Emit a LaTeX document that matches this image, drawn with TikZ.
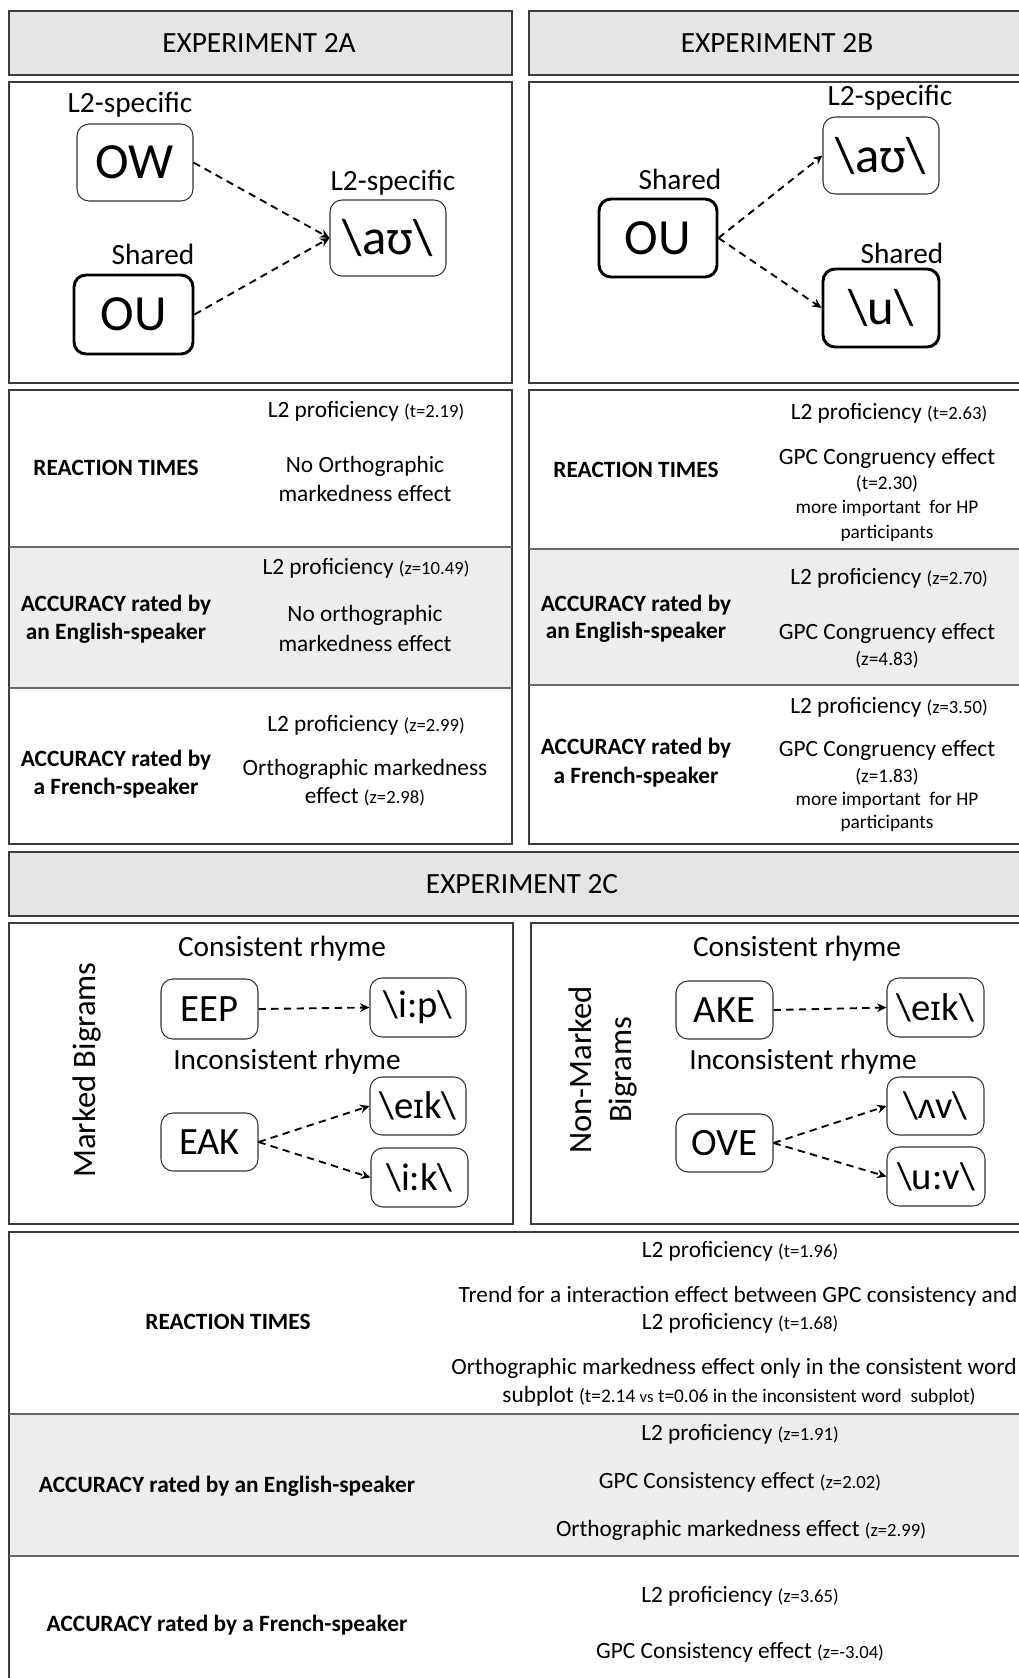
\documentclass[tikz,border=0pt]{standalone}
\usepackage{fontspec}
\setmainfont{Carlito}
\newfontfamily\ipaf[Scale=0.88]{Noto Sans}
\usetikzlibrary{arrows.meta}
\definecolor{hdrc}{RGB}{229,229,229}
\definecolor{rowc}{RGB}{237,237,237}
\definecolor{panelc}{RGB}{60,60,60}
\definecolor{divc}{RGB}{105,105,105}
\newcommand{\fs}[1]{\fontsize{#1}{#1}\selectfont}
\newcommand{\sm}[1]{{\fs{14}#1}}
\newcommand{\bs}{\textbackslash}
\tikzset{
  panel/.style={draw=panelc, line width=1.1pt},
  divline/.style={draw=divc, line width=1.3pt},
  hdrtxt/.style={font=\fs{22}, inner sep=0},
  lbl/.style={font=\fs{22}, inner sep=0},
  tbox/.style={draw=black!80, line width=0.8pt, rounded corners=9pt, inner sep=0},
  kbox/.style={draw=black, line width=2.2pt, rounded corners=9pt, inner sep=0},
  big/.style={font=\fs{38}},
  mid/.style={font=\fs{29}},
  darr/.style={draw=black, line width=1.4pt, dash pattern=on 5.5pt off 4pt, -{Stealth[length=7pt,width=6.5pt]}},
  tl/.style={font=\fs{17.5}, inner sep=0},
  tb/.style={font=\fs{17.5}\bfseries, inner sep=0},
  tsm/.style={font=\fs{14.5}, inner sep=0},
}
\begin{document}
\begin{tikzpicture}[x=0.75pt,y=-0.75pt]
\useasboundingbox (0,0) rectangle (1019,1678);
\fill[white] (0,0) rectangle (1019,1678);

% ---------- headers ----------
\draw[panel, fill=hdrc] (9,11) rectangle (512,75);
\draw[panel, fill=hdrc] (529,11) rectangle (1025,75);
\draw[panel, fill=hdrc] (9,852) rectangle (1035,916);
\node[hdrtxt] (h2a) at (259,42.5) {EXPERIMENT 2A};
\node[hdrtxt] (h2b) at (777,42.5) {EXPERIMENT 2B};
\node[hdrtxt] (h2c) at (522,884) {EXPERIMENT 2C};

% ---------- diagram 2A ----------
\draw[panel] (9,82) rectangle (512,383);
\node[tbox, big, minimum width=87pt, minimum height=57.75pt] (ow) at (135,162.5) {OW};
\node[kbox, big, minimum width=89.25pt, minimum height=59.25pt] (ouA) at (133.5,314.5) {OU};
\node[tbox, big, minimum width=87pt, minimum height=57pt] (auA) at (388,238) {\bs a{\ipaf ʊ}\bs};
\node[lbl] (l2a1) at (130,105) {L2-specific};
\node[lbl] (sha1) at (153,254) {Shared};
\node[lbl] (l2a2) at (393,183) {L2-specific};
\draw[darr] (ow.east) -- (auA.west);
\draw[darr] (ouA.east) -- (auA.west);

% ---------- diagram 2B ----------
\draw[panel] (529,82) rectangle (1025,383);
\node[tbox, big, minimum width=87pt, minimum height=57.75pt] (auB) at (881,155.5) {\bs a{\ipaf ʊ}\bs};
\node[kbox, big, minimum width=88.5pt, minimum height=58.5pt] (ouB) at (658,238) {OU};
\node[kbox, big, minimum width=87pt, minimum height=58.5pt] (uB) at (881,308) {\bs u\bs};
\node[lbl] (l2b1) at (890,98) {L2-specific};
\node[lbl] (shb1) at (680,179) {Shared};
\node[lbl] (shb2) at (902,253) {Shared};
\draw[darr] (ouB.east) -- (auB.west);
\draw[darr] (ouB.east) -- (uB.west);

% ---------- table 2A ----------
\fill[rowc] (9,547) rectangle (512,688);
\draw[panel] (9,390) rectangle (512,844);
\draw[divline] (9,547) -- (512,547);
\draw[divline] (9,688) -- (512,688);
\node[tb] (a1) at (116,468) {REACTION TIMES};
\node[tb] (a2) at (116,605) {ACCURACY rated by};
\node[tb] (a3) at (116,633) {an English-speaker};
\node[tb] (a4) at (116,760) {ACCURACY rated by};
\node[tb] (a5) at (116,788) {a French-speaker};
\node[tl] (ar1) at (366,411) {L2 proficiency \sm{(t=2.19)}};
\node[tl] (ar2) at (365,466) {No Orthographic};
\node[tl] (ar3) at (365,493) {markedness effect};
\node[tl] (ar4) at (366,568) {L2 proficiency \sm{(z=10.49)}};
\node[tl] (ar5) at (365,615) {No orthographic};
\node[tl] (ar6) at (365,643) {markedness effect};
\node[tl] (ar7) at (366,725) {L2 proficiency \sm{(z=2.99)}};
\node[tl] (ar8) at (365,769) {Orthographic markedness};
\node[tl] (ar9) at (365,797) {effect \sm{(z=2.98)}};

% ---------- table 2B ----------
\fill[rowc] (529,549) rectangle (1025,685);
\draw[panel] (529,390) rectangle (1025,844);
\draw[divline] (529,549) -- (1025,549);
\draw[divline] (529,685) -- (1025,685);
\node[tb] (b1) at (636,470) {REACTION TIMES};
\node[tb] (b2) at (636,605) {ACCURACY rated by};
\node[tb] (b3) at (636,632) {an English-speaker};
\node[tb] (b4) at (636,748) {ACCURACY rated by};
\node[tb] (b5) at (636,777) {a French-speaker};
\node[tl] (br1) at (889,413) {L2 proficiency \sm{(t=2.63)}};
\node[tl] (br2) at (887,458) {GPC Congruency effect};
\node[tsm] (br3) at (887,484) {(t=2.30)};
\node[tsm] (br4) at (887,508) {more important \ for HP};
\node[tsm] (br5) at (887,533) {participants};
\node[tl] (br6) at (889,578) {L2 proficiency \sm{(z=2.70)}};
\node[tl] (br7) at (887,633) {GPC Congruency effect};
\node[tsm] (br8) at (887,660) {(z=4.83)};
\node[tl] (br9) at (889,707) {L2 proficiency \sm{(z=3.50)}};
\node[tl] (br10) at (887,750) {GPC Congruency effect};
\node[tsm] (br11) at (887,777) {(z=1.83)};
\node[tsm] (br12) at (887,800) {more important \ for HP};
\node[tsm] (br13) at (887,823) {participants};

% ---------- diagram 2C ----------
\draw[panel] (9,923) rectangle (513,1224);
\draw[panel] (531,923) rectangle (1035,1224);
\node[font=\fs{24.5}, inner sep=0, rotate=90] (mb) at (87,1070) {Marked Bigrams};
\node[lbl] (c1) at (282,949) {Consistent rhyme};
\node[lbl] (c2) at (287,1062) {Inconsistent rhyme};
\node[tbox, mid, minimum width=72.75pt, minimum height=45pt] (eep) at (209.5,1009) {EEP};
\node[tbox, mid, minimum width=72pt, minimum height=44.25pt] (ip) at (418,1007.5) {\bs i:p\bs};
\node[tbox, mid, minimum width=72.75pt, minimum height=43.5pt] (eak) at (209.5,1142) {EAK};
\node[tbox, mid, minimum width=72pt, minimum height=43.5pt] (eik) at (418,1106) {\bs e{\ipaf ɪ}k\bs};
\node[tbox, mid, minimum width=72.75pt, minimum height=44.25pt] (ik) at (419.5,1177.5) {\bs i:k\bs};
\draw[darr] (eep.east) -- (ip.west);
\draw[darr] (eak.east) -- (eik.west);
\draw[darr] (eak.east) -- (ik.west);

\node[font=\fontsize{24.5}{30}\selectfont, inner sep=0, rotate=90, align=center] (nmb) at (603,1070) {Non-Marked\\Bigrams};
\node[lbl] (c3) at (797,949) {Consistent rhyme};
\node[lbl] (c4) at (803,1062) {Inconsistent rhyme};
\node[tbox, mid, minimum width=72.75pt, minimum height=43.5pt] (ake) at (724.5,1010) {AKE};
\node[tbox, mid, minimum width=72.75pt, minimum height=44.25pt] (eik2) at (935.5,1007.5) {\bs e{\ipaf ɪ}k\bs};
\node[tbox, mid, minimum width=72.75pt, minimum height=43.5pt] (ove) at (724.5,1143) {OVE};
\node[tbox, mid, minimum width=72.75pt, minimum height=43.5pt] (av) at (935.5,1106) {\bs{\ipaf ʌ}v\bs};
\node[tbox, mid, minimum width=73.5pt, minimum height=44.25pt] (uv) at (936,1176.5) {\bs u:v\bs};
\draw[darr] (ake.east) -- (eik2.west);
\draw[darr] (ove.east) -- (av.west);
\draw[darr] (ove.east) -- (uv.west);

% ---------- table 2C ----------
\fill[rowc] (9,1414) rectangle (1035,1556);
\draw[panel] (9,1232) rectangle (1035,1700);
\draw[divline] (9,1414) -- (1035,1414);
\draw[divline] (9,1556) -- (1035,1556);
\node[tb] (c5) at (228,1322) {REACTION TIMES};
\node[tb] (c6) at (227,1486) {ACCURACY rated by an English-speaker};
\node[tb] (c7) at (227,1625) {ACCURACY rated by a French-speaker};
\node[tl] (cr1) at (740,1251) {L2 proficiency \sm{(t=1.96)}};
\node[tl] (cr2) at (738,1296) {Trend for a interaction effect between GPC consistency and};
\node[tl] (cr3) at (740,1323) {L2 proficiency \sm{(t=1.68)}};
\node[tl] (cr4) at (734,1368) {Orthographic markedness effect only in the consistent word};
\node[tl] (cr5) at (739,1396) {subplot {\fs{14.5}(t=2.14 {\fs{12.5}vs} t=0.06 in the inconsistent word \ subplot)}};
\node[tl] (cr6) at (740,1434) {L2 proficiency \sm{(z=1.91)}};
\node[tl] (cr7) at (740,1482) {GPC Consistency effect \sm{(z=2.02)}};
\node[tl] (cr8) at (741,1530) {Orthographic markedness effect \sm{(z=2.99)}};
\node[tl] (cr9) at (740,1596) {L2 proficiency \sm{(z=3.65)}};
\node[tl] (cr10) at (740,1652) {GPC Consistency effect \sm{(z=-3.04)}};
\end{tikzpicture}
\end{document}
